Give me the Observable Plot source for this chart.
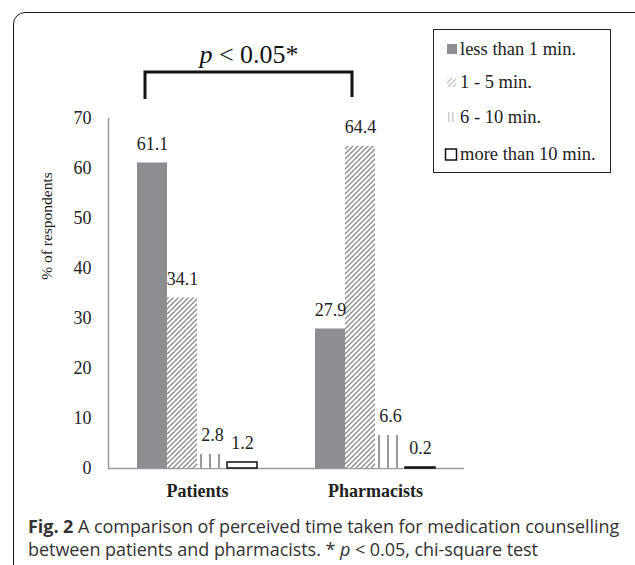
<!DOCTYPE html>
<html><head><meta charset="utf-8">
<script src="https://cdn.jsdelivr.net/npm/d3@7"></script>
<script src="https://cdn.jsdelivr.net/npm/@observablehq/plot@0.6"></script>
<style>
html,body{margin:0;padding:0;background:#fff;width:635px;height:565px;overflow:hidden;position:relative;}
#frame{position:absolute;left:13px;top:12px;width:640px;height:600px;border:1.6px solid #1a1a1a;border-radius:12px;box-sizing:border-box;}
#chart{position:absolute;left:0;top:0;}
#chart g[aria-label="y-axis tick label"]{font-size:18px;}
#chart g[aria-label="text"]{font-size:18px;}
#anno{position:absolute;left:0;top:0;}
#ylabel{position:absolute;left:47px;top:226px;transform:translate(-50%,-50%) rotate(-90deg);font-family:'Liberation Serif','Times New Roman',serif;font-size:15.5px;color:#222;white-space:nowrap;}
#legend{position:absolute;left:433px;top:29px;width:178px;height:144px;border:1.5px solid #222;box-sizing:border-box;background:#fff;font-family:'Liberation Serif','Times New Roman',serif;font-size:18.5px;color:#222;}
.item{position:absolute;left:10px;height:22px;line-height:22px;white-space:nowrap;display:flex;align-items:center;}
.item svg{margin-right:2px;}
#caption{position:absolute;left:28px;top:515px;font-family:'Open Sans','Noto Sans',sans-serif;font-size:18px;line-height:23px;color:#333;letter-spacing:-0.05px;white-space:nowrap;}
#caption b{color:#333;}
</style></head><body>
<div id="frame"></div>
<div id="chart"></div>
<svg id="anno" width="635" height="120">
  <path d="M145,99 V72 H352 V97" fill="none" stroke="#111" stroke-width="3"/>
  <text x="249" y="63" text-anchor="middle" font-size="26" font-family="'Liberation Serif','Times New Roman',serif" fill="#111"><tspan font-style="italic">p</tspan> &lt; 0.05*</text>
</svg>
<div id="ylabel">% of respondents</div>
<div id="legend"></div>
<div id="caption"><b>Fig. 2</b> A comparison of perceived time taken for medication counselling<br>between patients and pharmacists. * <i>p</i> &lt; 0.05, chi-square test</div>
<script>
const groups = ["Patients", "Pharmacists"];
const durations = ["less than 1 min.", "1 - 5 min.", "6 - 10 min.", "more than 10 min."];
const patients = [61.1, 34.1, 2.8, 1.2];
const pharmacists = [27.9, 64.4, 6.6, 0.2];
const yTicks = [0, 10, 20, 30, 40, 50, 60, 70];
const fills = ["#8d8e92", "url(#hatch)", "url(#vstripe)", "#ffffff"];

const series = [patients, pharmacists];
const rows = groups.flatMap((g, i) => durations.map((d, j) => ({group: g, duration: d, value: series[i][j]})));

const serif = "'Liberation Serif','Times New Roman',serif";
const svg = Plot.plot({
  width: 635, height: 510,
  marginTop: 118, marginBottom: 42, marginLeft: 107, marginRight: 171,
  fx: {domain: groups, padding: 0, label: null},
  x: {domain: durations, paddingInner: 0, paddingOuter: 0.926, axis: null},
  y: {domain: [0, 70], label: null},
  color: {domain: durations, range: fills},
  style: {fontFamily: serif, fontSize: "18px", color: "#222", background: "transparent", overflow: "visible"},
  marks: [
    Plot.axisY({ticks: yTicks, tickSize: 0, tickPadding: 17, fontSize: 18, label: null}),
    Plot.axisFx({anchor: "bottom", tickSize: 0, tickPadding: 16, fontSize: 18, fontWeight: "bold", label: null}),
    Plot.ruleY([0], {stroke: "#9a9a9a", strokeWidth: 1.5}),
    Plot.frame({anchor: "left", facetAnchor: "left", stroke: "#9a9a9a", strokeWidth: 1.5}),
    Plot.barY(rows, {fx: "group", x: "duration", y: "value", fill: "duration"}),
    Plot.barY(rows.filter(d => d.duration === durations[3]), {fx: "group", x: "duration", y: "value", fill: "none", stroke: "#111", strokeWidth: 1.5}),
    Plot.text(rows, {fx: "group", x: "duration", y: "value", text: d => d.value.toFixed(1), dy: -19, fontSize: 18, fill: "#222"})
  ]
});
d3.select(svg).insert("defs", ":first-child").html(`
  <pattern id="hatch" patternUnits="userSpaceOnUse" width="5" height="5">
    <rect width="5" height="5" fill="#fff"/>
    <path d="M-1,1 L1,-1 M0,5 L5,0 M4,6 L6,4" stroke="#8a8a8a" stroke-width="1.3"/>
  </pattern>
  <pattern id="vstripe" patternUnits="userSpaceOnUse" width="9" height="9">
    <rect width="9" height="9" fill="#fff"/>
    <rect x="1" width="2" height="9" fill="#9a9a9a"/>
  </pattern>
  <pattern id="vstripeSmall" patternUnits="userSpaceOnUse" width="4" height="4">
    <rect width="4" height="4" fill="#fff"/>
    <rect x="0" width="1.5" height="4" fill="#9a9a9a"/>
  </pattern>`);
document.getElementById("chart").appendChild(svg);

const legendTops = [37, 70, 105, 142];
const swatch = [
  `<svg width="14" height="12"><rect x="3" y="1" width="10" height="10" fill="#8d8e92"/></svg>`,
  `<svg width="14" height="12"><rect x="3" y="2" width="9" height="9" fill="url(#hatch)" opacity="0.55"/></svg>`,
  `<svg width="14" height="12"><rect x="4" y="1" width="8" height="10" fill="url(#vstripeSmall)" opacity="0.5"/></svg>`,
  `<svg width="14" height="13"><rect x="1.5" y="1" width="11" height="11" fill="#fff" stroke="#111" stroke-width="1.5"/></svg>`
];
const legend = document.getElementById("legend");
durations.forEach((d, i) => {
  const div = document.createElement("div");
  div.className = "item";
  div.style.top = (legendTops[i] - 29) + "px";
  div.innerHTML = swatch[i] + `<span>${d}</span>`;
  legend.appendChild(div);
});
</script>
</body></html>
